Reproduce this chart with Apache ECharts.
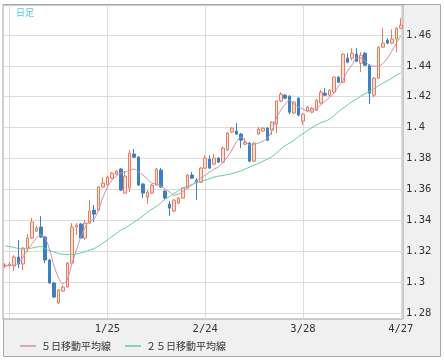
<!DOCTYPE html>
<html><head><meta charset="utf-8">
<script src="https://cdn.jsdelivr.net/npm/echarts@6/dist/echarts.min.js"></script>
<style>html,body{margin:0;padding:0;background:#fff}#c{width:444px;height:361px}</style>
</head><body><div id="c"></div>
<script>
const categories = ['12/23','12/24','12/27','12/28','12/29','12/30','12/31','1/3','1/4','1/5','1/6','1/7','1/10','1/11','1/12','1/13','1/14','1/17','1/18','1/19','1/20','1/21','1/24','1/25','1/26','1/27','1/28','1/31','2/1','2/2','2/3','2/4','2/7','2/8','2/9','2/10','2/11','2/14','2/15','2/16','2/17','2/18','2/21','2/22','2/23','2/24','2/25','2/28','3/1','3/2','3/3','3/4','3/7','3/8','3/9','3/10','3/11','3/14','3/15','3/16','3/17','3/18','3/21','3/22','3/23','3/24','3/25','3/28','3/29','3/30','3/31','4/1','4/4','4/5','4/6','4/7','4/8','4/11','4/12','4/13','4/14','4/15','4/18','4/19','4/20','4/21','4/22','4/25','4/26','4/27'];
const openVals = [1.3104,1.3110,1.3104,1.3162,1.3117,1.3220,1.3285,1.3330,1.3356,1.3292,
1.3143,1.2994,1.2865,1.2942,1.2968,1.3123,1.3356,1.3376,1.3285,1.3382,
1.3466,1.3466,1.3615,1.3628,1.3673,1.3699,1.3732,1.3576,1.3609,1.3829,
1.3809,1.3635,1.3550,1.3576,1.3628,1.3725,1.3589,1.3505,1.3460,1.3512,
1.3544,1.3609,1.3693,1.3660,1.3647,1.3738,1.3796,1.3764,1.3803,1.3777,
1.3855,1.3971,1.3978,1.3958,1.3893,1.3900,1.3783,1.3958,1.3978,1.3997,
1.3984,1.4023,1.4172,1.4210,1.4204,1.4094,1.4191,1.4042,1.4107,1.4100,
1.4113,1.4159,1.4223,1.4210,1.4230,1.4327,1.4294,1.4450,1.4450,1.4476,
1.4417,1.4482,1.4404,1.4210,1.4320,1.4521,1.4566,1.4547,1.4573,1.4644];
const closeVals = [1.3110,1.3117,1.3162,1.3117,1.3220,1.3285,1.3389,1.3350,1.3292,1.3143,
1.2994,1.2903,1.2949,1.2968,1.3123,1.3356,1.3369,1.3285,1.3382,1.3460,
1.3440,1.3615,1.3641,1.3680,1.3706,1.3719,1.3596,1.3686,1.3835,1.3809,
1.3628,1.3576,1.3583,1.3628,1.3732,1.3615,1.3544,1.3479,1.3531,1.3544,
1.3609,1.3693,1.3673,1.3647,1.3738,1.3803,1.3738,1.3803,1.3777,1.3867,
1.3965,1.3997,1.3958,1.3919,1.3906,1.3783,1.3900,1.3990,1.3997,1.3919,
1.4036,1.4172,1.4217,1.4191,1.4100,1.4165,1.4081,1.4087,1.4133,1.4126,
1.4178,1.4230,1.4210,1.4243,1.4327,1.4294,1.4476,1.4424,1.4482,1.4430,
1.4469,1.4404,1.4223,1.4320,1.4521,1.4547,1.4547,1.4573,1.4644,1.4663];
const lowVals = [1.3091,1.3097,1.3072,1.3091,1.3078,1.3195,1.3279,1.3324,1.3285,1.3123,
1.2988,1.2897,1.2858,1.2936,1.2962,1.3117,1.3305,1.3279,1.3272,1.3376,
1.3389,1.3460,1.3609,1.3622,1.3667,1.3693,1.3589,1.3570,1.3583,1.3803,
1.3622,1.3544,1.3505,1.3570,1.3622,1.3609,1.3531,1.3427,1.3453,1.3505,
1.3538,1.3602,1.3667,1.3531,1.3641,1.3732,1.3732,1.3757,1.3770,1.3770,
1.3848,1.3965,1.3952,1.3867,1.3887,1.3777,1.3777,1.3952,1.3971,1.3913,
1.3952,1.3965,1.4165,1.4184,1.4087,1.4087,1.4074,1.4017,1.4100,1.4094,
1.4107,1.4152,1.4204,1.4204,1.4223,1.4288,1.4288,1.4417,1.4437,1.4424,
1.4359,1.4398,1.4152,1.4197,1.4314,1.4514,1.4540,1.4540,1.4489,1.4637];
const highVals = [1.3123,1.3130,1.3175,1.3272,1.3227,1.3311,1.3415,1.3363,1.3427,1.3298,
1.3149,1.3001,1.2955,1.2981,1.3130,1.3382,1.3382,1.3382,1.3402,1.3531,
1.3499,1.3622,1.3680,1.3686,1.3712,1.3725,1.3738,1.3719,1.3855,1.3861,
1.3816,1.3641,1.3596,1.3635,1.3738,1.3738,1.3596,1.3525,1.3538,1.3550,
1.3615,1.3699,1.3712,1.3673,1.3745,1.3822,1.3822,1.3829,1.3809,1.3880,
1.3971,1.4003,1.4029,1.3965,1.3932,1.3906,1.3906,1.4003,1.4003,1.4003,
1.4042,1.4178,1.4230,1.4217,1.4210,1.4172,1.4197,1.4094,1.4139,1.4133,
1.4184,1.4243,1.4256,1.4249,1.4333,1.4333,1.4482,1.4482,1.4514,1.4514,
1.4489,1.4489,1.4411,1.4327,1.4527,1.4644,1.4579,1.4637,1.4650,1.4709];
const ma5 = [1.3106,1.3107,1.3110,1.3123,1.3162,1.3207,1.3246,1.3285,1.3305,1.3285,
1.3207,1.3104,1.3026,1.2988,1.3020,1.3117,1.3207,1.3292,1.3356,1.3395,
1.3408,1.3466,1.3550,1.3615,1.3660,1.3686,1.3706,1.3712,1.3725,1.3732,
1.3712,1.3693,1.3667,1.3641,1.3635,1.3622,1.3602,1.3583,1.3563,1.3570,
1.3589,1.3609,1.3628,1.3654,1.3673,1.3693,1.3712,1.3732,1.3745,1.3777,
1.3809,1.3855,1.3906,1.3939,1.3913,1.3887,1.3893,1.3900,1.3913,1.3932,
1.3978,1.4062,1.4113,1.4152,1.4178,1.4152,1.4133,1.4120,1.4107,1.4113,
1.4126,1.4146,1.4172,1.4197,1.4223,1.4269,1.4307,1.4366,1.4404,1.4450,
1.4450,1.4430,1.4404,1.4398,1.4398,1.4417,1.4450,1.4495,1.4547,1.4592];
const ma25 = [1.3233,1.3230,1.3224,1.3217,1.3214,1.3217,1.3220,1.3227,1.3230,1.3217,
1.3204,1.3195,1.3185,1.3180,1.3178,1.3180,1.3183,1.3189,1.3198,1.3207,
1.3217,1.3233,1.3253,1.3272,1.3295,1.3314,1.3337,1.3350,1.3369,1.3389,
1.3408,1.3428,1.3453,1.3473,1.3489,1.3512,1.3538,1.3554,1.3573,1.3592,
1.3609,1.3622,1.3631,1.3644,1.3651,1.3660,1.3670,1.3680,1.3686,1.3690,
1.3696,1.3702,1.3712,1.3719,1.3732,1.3745,1.3758,1.3767,1.3783,1.3796,
1.3812,1.3835,1.3861,1.3884,1.3900,1.3919,1.3942,1.3961,1.3981,1.4000,
1.4016,1.4032,1.4042,1.4055,1.4078,1.4104,1.4126,1.4146,1.4168,1.4184,
1.4204,1.4220,1.4236,1.4252,1.4272,1.4288,1.4304,1.4320,1.4340,1.4353];
const yTicks = [1.28,1.30,1.32,1.34,1.36,1.38,1.40,1.42,1.44,1.46];
const xLabelDates = ['1/25','2/24','3/28','4/27'];
const xGridDates = ['12/24','1/25','2/24','3/28','4/27'];
const yMin = 1.2761, yMax = 1.4794;
const seriesNames = ['５日移動平均線','２５日移動平均線'];

const candleData = categories.map((c, i) => [openVals[i], closeVals[i], lowVals[i], highVals[i]]);
const gridLineData = xGridDates.map(d => ({xAxis: d})).concat(yTicks.map(v => ({yAxis: v})));
const monoFont = '"DejaVu Sans Mono", monospace';

const chart = echarts.init(document.getElementById('c'), null, {renderer: 'canvas'});
chart.setOption({
  animation: false,
  backgroundColor: '#ffffff',
  graphic: [
    {type: 'rect', z: -10, shape: {x: 3.5, y: 4.5, width: 437, height: 352},
     style: {fill: '#f0f0f0', stroke: '#a8a8a8', lineWidth: 1}},
    {type: 'text', z: 100, left: 16, top: 8,
     style: {text: '日足', fill: '#4fc3f0', font: '9px "Noto Sans CJK JP"'}}
  ],
  grid: {left: 3, right: 41, top: 5, bottom: 42, show: true, backgroundColor: '#ffffff',
         borderColor: '#a0a0a0', borderWidth: 1},
  legend: {
    data: seriesNames, left: 15, top: 336, icon: 'rect', itemWidth: 16, itemHeight: 1.5, itemGap: 14,
    textStyle: {fontSize: 10, color: '#333', fontFamily: '"Noto Sans CJK JP"'}
  },
  xAxis: {
    type: 'category', data: categories, boundaryGap: true,
    axisLine: {show: false}, axisTick: {show: false}, splitLine: {show: false},
    axisLabel: {
      interval: (idx, val) => xLabelDates.indexOf(val) >= 0,
      margin: 5, fontSize: 10.5, color: '#333', fontFamily: monoFont, hideOverlap: false
    }
  },
  yAxis: {
    type: 'value', position: 'right', min: yMin, max: yMax, scale: true,
    axisLine: {show: false}, axisTick: {show: false}, splitLine: {show: false},
    axisLabel: {customValues: yTicks, margin: 3, fontSize: 10.5, color: '#333', fontFamily: monoFont,
                formatter: v => String(Math.round(v * 100) / 100)}
  },
  series: [
    {type: 'line', data: [], silent: true, z: 1,
     markLine: {silent: true, symbol: ['none', 'none'], z: 1, label: {show: false},
                lineStyle: {color: '#dcdcdc', type: 'solid', width: 1},
                emphasis: {disabled: true}, data: gridLineData}},
    {type: 'candlestick', data: candleData, barWidth: 3, z: 2,
     itemStyle: {color: '#fbe0d6', color0: '#3d80c2', borderColor: '#e87d60', borderColor0: '#3d80c2', borderWidth: 1}},
    {name: seriesNames[0], type: 'line', data: ma5, symbol: 'none', smooth: 0.3, z: 3,
     lineStyle: {color: '#cf8fb2', width: 1}, itemStyle: {color: '#cf8fb2'}},
    {name: seriesNames[1], type: 'line', data: ma25, symbol: 'none', smooth: 0.3, z: 3,
     lineStyle: {color: '#5fcf98', width: 1}, itemStyle: {color: '#5fcf98'}}
  ]
});
</script></body></html>
